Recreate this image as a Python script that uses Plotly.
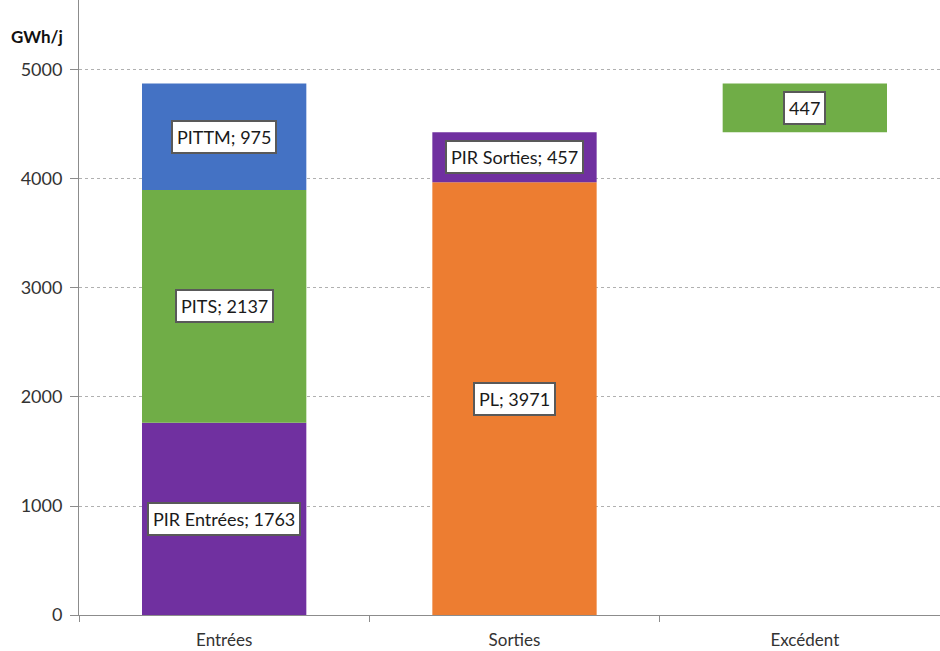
import plotly.graph_objects as go

categories = ["Entrées", "Sorties", "Excédent"]
entrees_names = ["PIR Entrées", "PITS", "PITTM"]
entrees_values = [1763, 2137, 975]
sorties_names = ["PL", "PIR Sorties"]
sorties_values = [3971, 457]
excedent_value = 447
y_ticks = [0, 1000, 2000, 3000, 4000, 5000]

entrees_colors = ["#7030A0", "#70AD47", "#4472C4"]
sorties_colors = ["#ED7D31", "#7030A0"]
excedent_color = "#70AD47"

FONT = "Lato, Liberation Sans, sans-serif"
fig = go.Figure()
annotations = []

def box(x, y, text):
    annotations.append(dict(
        x=x, y=y, xref="x", yref="y", text=text, showarrow=False,
        font=dict(family=FONT, size=18, color="#1a1a1a"),
        bgcolor="white", bordercolor="#595959", borderwidth=2, borderpad=4,
    ))

base = 0
for name, v, c in zip(entrees_names, entrees_values, entrees_colors):
    fig.add_trace(go.Bar(x=[categories[0]], y=[v], base=[base], marker_color=c, name=name,
                         marker_line_width=0))
    box(categories[0], base + v / 2, f"{name}; {v}")
    base += v

base = 0
for name, v, c in zip(sorties_names, sorties_values, sorties_colors):
    fig.add_trace(go.Bar(x=[categories[1]], y=[v], base=[base], marker_color=c, name=name,
                         marker_line_width=0))
    box(categories[1], base + v / 2, f"{name}; {v}")
    base += v

exc_base = sum(sorties_values)
fig.add_trace(go.Bar(x=[categories[2]], y=[excedent_value], base=[exc_base],
                     marker_color=excedent_color, name="Excédent", marker_line_width=0))
box(categories[2], exc_base + excedent_value / 2, f"{excedent_value}")

PLOT_W = 950 - 79
annotations.append(dict(
    x=-(79 - 9) / PLOT_W, y=1.0 - 36 / 615, xref="paper", yref="paper", text="<b>GWh/j</b>",
    showarrow=False, xanchor="left", yanchor="middle",
    font=dict(family=FONT, size=17, color="#111111"),
))

fig.update_layout(
    width=950, height=651,
    margin=dict(l=79, r=0, t=0, b=36),
    paper_bgcolor="white", plot_bgcolor="white",
    barmode="overlay", bargap=0.434,
    showlegend=False,
    annotations=annotations,
    font=dict(family=FONT, size=17, color="#333333"),
)
fig.update_xaxes(
    showline=True, linecolor="#8c8c8c", linewidth=1,
    ticks="outside", tickson="boundaries", ticklen=6, tickcolor="#8c8c8c",
    tickfont=dict(family=FONT, size=17, color="#333333"),
    ticklabelstandoff=10,
    showgrid=False,
)
fig.update_yaxes(
    range=[0, 5642], tickvals=y_ticks,
    showline=True, linecolor="#8c8c8c", linewidth=1,
    ticks="outside", ticklen=8, tickcolor="#8c8c8c",
    tickfont=dict(family=FONT, size=18, color="#333333"),
    ticklabelstandoff=4,
    showgrid=True, gridcolor="#b0b0b0", griddash="dot", gridwidth=1,
    zeroline=False,
)

fig.write_html(
    "out.html",
    config={"displayModeBar": False},
    post_script="document.body.style.margin='0';document.body.style.padding='0';"
                "document.body.style.overflow='hidden';"
                "document.documentElement.style.overflow='hidden';",
)
